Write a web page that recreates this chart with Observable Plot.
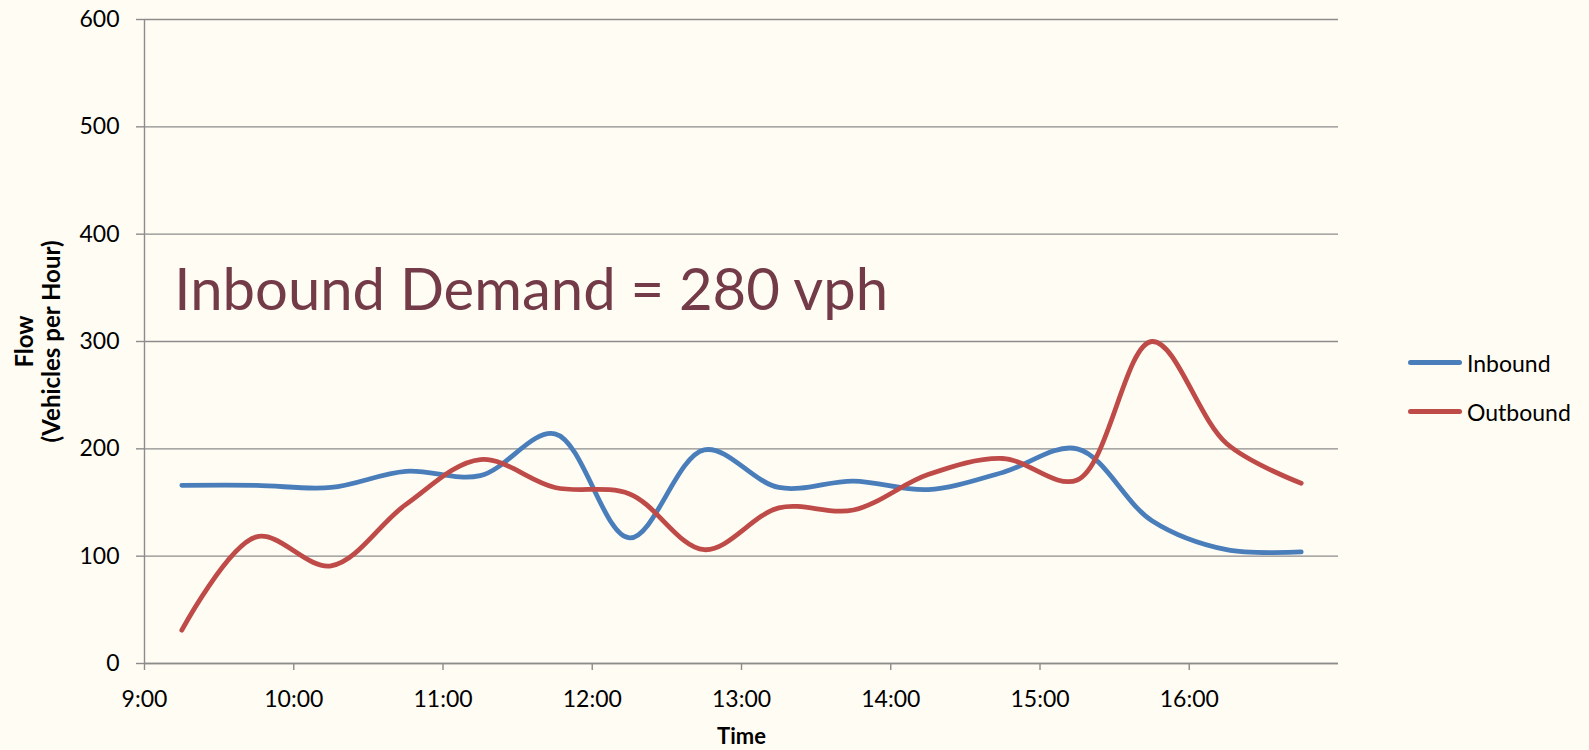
<!DOCTYPE html>
<html>
<head>
<meta charset="utf-8">
<script src="https://cdn.jsdelivr.net/npm/d3@7"></script>
<script src="https://cdn.jsdelivr.net/npm/@observablehq/plot@0.6"></script>
<style>
  html, body { margin: 0; padding: 0; background: #FFFCF3; }
  #wrap { position: relative; width: 1589px; height: 750px; font-family: Lato, "Open Sans", sans-serif; }
  #legend { position: absolute; left: 1408px; top: 338px; }
  .item { display: flex; align-items: center; height: 49px; font-size: 23px; color: #000; }
  .swatch { width: 54px; height: 5px; border-radius: 3px; margin-right: 5px; }
</style>
</head>
<body>
<div id="wrap"><div id="legend"></div></div>
<script>
// ---- data ----
const times = ["9:15","9:45","10:15","10:45","11:15","11:45","12:15","12:45","13:15","13:45","14:15","14:45","15:15","15:45","16:15","16:45"];
const inbound  = [166,166,164,179,175,214,117,199,164,170,162,178,200,133,106,104];
const outbound = [31,118,91,148,190,164,158,106,145,143,176,191,171,300,205,168];
const seriesNames = ["Inbound","Outbound"];
const seriesColors = ["#4A7EBB","#BE4B48"];
const xTicks = [9,10,11,12,13,14,15,16];
const xTickLabels = ["9:00","10:00","11:00","12:00","13:00","14:00","15:00","16:00"];
const yTicks = [0,100,200,300,400,500,600];
const annotationText = "Inbound Demand = 280 vph";
const annotationTime = "9:12";
const annotationValue = 329;
const xTitle = "Time";
const yTitle = "Flow\n(Vehicles per Hour)";

const toHours = t => { const [h, m] = t.split(":").map(Number); return h + m / 60; };
const rows = [];
[inbound, outbound].forEach((vals, s) => vals.forEach((v, i) => rows.push({series: seriesNames[s], t: toHours(times[i]), v})));

const chart = Plot.plot({
  width: 1589,
  height: 750,
  marginLeft: 144,
  marginRight: 251,
  marginTop: 19,
  marginBottom: 87,
  style: {background: "transparent", fontFamily: "Lato, 'Open Sans', sans-serif", color: "#000"},
  x: {domain: [9, 17]},
  y: {domain: [0, 600]},
  color: {domain: seriesNames, range: seriesColors},
  marks: [
    Plot.gridY(yTicks, {stroke: "#8C8C8C", strokeOpacity: 1, strokeWidth: 1.4}),
    Plot.ruleX([9], {stroke: "#8C8C8C", strokeWidth: 1.4}),
    Plot.ruleY([0], {stroke: "#8C8C8C", strokeWidth: 1.4}),
    Plot.axisY(yTicks, {tickSize: 8, tickPadding: 17, fontSize: 23, stroke: "#8C8C8C", strokeWidth: 1.4, fill: "#000", label: null}),
    Plot.axisX(xTicks, {tickSize: 7, tickPadding: 20, fontSize: 23, stroke: "#8C8C8C", strokeWidth: 1.4, fill: "#000", label: null,
      tickFormat: (d) => xTickLabels[xTicks.indexOf(d)]}),
    Plot.line(rows, {x: "t", y: "v", z: "series", stroke: "series", strokeWidth: 4.8, curve: "catmull-rom", strokeLinecap: "round"}),
    Plot.text([annotationText], {x: () => toHours(annotationTime), y: () => annotationValue, text: d => d,
      textAnchor: "start", lineAnchor: "bottom", fontSize: 58, fill: "#733B48"}),
    Plot.text([xTitle], {frameAnchor: "bottom", dy: 80, lineAnchor: "bottom", text: d => d, fontSize: 22, fontWeight: "bold", fill: "#000"}),
    Plot.text([yTitle], {frameAnchor: "left", dx: -107, rotate: -90, textAnchor: "middle", lineAnchor: "middle", text: d => d, fontSize: 24, fontWeight: "bold", lineHeight: 1.15, fill: "#000"})
  ]
});
document.getElementById("wrap").prepend(chart);

const legend = document.getElementById("legend");
seriesNames.forEach((n, i) => {
  const it = document.createElement("div");
  it.className = "item";
  const sw = document.createElement("div");
  sw.className = "swatch";
  sw.style.background = seriesColors[i];
  const lb = document.createElement("span");
  lb.textContent = n;
  it.append(sw, lb);
  legend.append(it);
});
</script>
</body>
</html>
